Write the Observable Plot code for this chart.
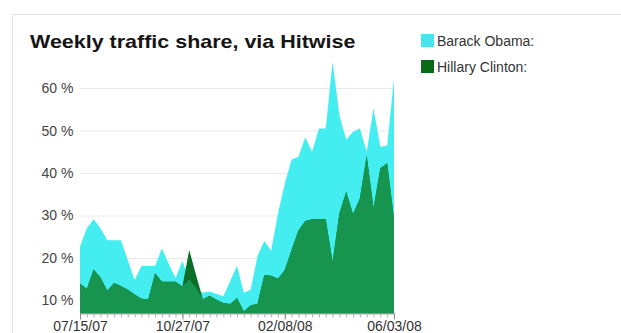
<!DOCTYPE html>
<html>
<head>
<meta charset="utf-8">
<script src="https://cdn.jsdelivr.net/npm/d3@7"></script>
<script src="https://cdn.jsdelivr.net/npm/@observablehq/plot@0.6"></script>
<style>
  html, body { margin: 0; padding: 0; background: #fff; }
  #wrap { position: relative; width: 621px; height: 333px; overflow: hidden; font-family: Arial, "Liberation Sans", sans-serif; }
  #wrap svg { position: absolute; left: 0; top: 0; }
  #box { position: absolute; left: 12px; top: 14px; width: 640px; height: 340px; border: 1px solid #e3e3e3; box-sizing: border-box; }
  #title { position: absolute; left: 30px; top: 32px; font-size: 19px; line-height: 19px; font-weight: bold; color: #151515; white-space: nowrap; transform: scaleX(1.13); transform-origin: 0 0; }
  .leg { position: absolute; left: 421px; font-size: 14px; line-height: 14px; color: #333; white-space: nowrap; }
  .leg span.sw { position: absolute; left: 0; width: 13px; height: 13px; }
  .leg span.tx { position: absolute; left: 16px; top: 0; }
</style>
</head>
<body>
<div id="wrap">
  <div id="box"></div>
</div>
<script>
// ---- data ----
const weeks = [
  "2007-07-15","2007-07-22","2007-07-29","2007-08-05","2007-08-12","2007-08-19","2007-08-26",
  "2007-09-02","2007-09-09","2007-09-16","2007-09-23","2007-09-30","2007-10-07","2007-10-14",
  "2007-10-21","2007-10-28","2007-11-04","2007-11-11","2007-11-18","2007-11-25","2007-12-02",
  "2007-12-09","2007-12-16","2007-12-23","2007-12-30","2008-01-06","2008-01-13","2008-01-20",
  "2008-01-27","2008-02-03","2008-02-10","2008-02-17","2008-02-24","2008-03-02","2008-03-09",
  "2008-03-16","2008-03-23","2008-03-30","2008-04-06","2008-04-13","2008-04-20","2008-04-27",
  "2008-05-04","2008-05-11","2008-05-18","2008-05-25","2008-06-01"
];
const obama = [
  22.7, 27.0, 29.1, 27.0, 24.2, 24.2, 24.2, 19.5, 14.8, 18.1, 18.1, 18.1, 22.3, 18.6, 15.3, 19.3,
  15.0, 13.0, 11.8, 12.1, 11.5, 11.0, 14.5, 18.2, 11.8, 12.5, 20.5, 24.0, 21.7, 30.5, 37.5, 43.2,
  43.8, 48.4, 45.0, 50.5, 50.5, 66.2, 53.6, 47.8, 49.7, 50.5, 45.0, 55.2, 46.2, 46.4, 62.3
];
const clinton = [
  14.0, 12.7, 17.3, 15.4, 12.3, 14.1, 13.4, 12.5, 11.4, 10.4, 10.3, 16.4, 14.4, 14.4, 14.4, 13.3,
  21.9, 16.0, 10.3, 11.1, 10.2, 9.4, 9.2, 10.6, 7.4, 8.9, 9.2, 16.0, 15.8, 15.1, 17.2, 21.9,
  26.5, 28.7, 29.1, 29.1, 29.1, 19.1, 30.5, 35.6, 30.3, 34.0, 44.1, 31.7, 41.1, 42.3, 29.3
];
const seriesNames = ["Barack Obama:", "Hillary Clinton:"];
const tickDates = ["2007-07-15", "2007-10-28", "2008-02-10", "2008-06-01"];
const tickLabels = ["07/15/07", "10/27/07", "02/08/08", "06/03/08"];
const yTicks = [10, 20, 30, 40, 50, 60];
const yDomain = [6.94, 66.5];

// ---- colours ----
const cyan = "#44eef0";
const overlap = "#17954e";
const darkGreen = "#0c6f28";
const legendCyan = "#46e4ee";
const legendGreen = "#0a6a16";

const parse = d3.utcParse("%Y-%m-%d");
const data = weeks.map((w, i) => ({
  date: parse(w),
  obama: obama[i],
  clinton: clinton[i],
  both: Math.min(obama[i], clinton[i])
}));
const weekDates = data.map(d => d.date);
const majorDates = tickDates.map(parse);
const labelMap = new Map(majorDates.map((d, i) => [+d, tickLabels[i]]));

const chart = Plot.plot({
  width: 621,
  height: 333,
  marginLeft: 80,
  marginRight: 227,
  marginTop: 60.4,
  marginBottom: 19.5,
  style: { fontFamily: "Arial, 'Liberation Sans', sans-serif", fontSize: "14px", background: "transparent" },
  x: { type: "utc", domain: d3.extent(weekDates), label: null },
  y: { domain: yDomain, label: null },
  marks: [
    Plot.gridY(yTicks, { stroke: "#e9e9e9", strokeOpacity: 1 }),
    Plot.areaY(data, { x: "date", y: "obama", fill: cyan, clip: true }),
    Plot.areaY(data, { x: "date", y: "clinton", fill: darkGreen, clip: true }),
    Plot.areaY(data, { x: "date", y: "both", fill: overlap, clip: true }),
    Plot.ruleY([yDomain[0]], { stroke: "#aaaaaa" }),
    Plot.axisX(weekDates, { tickSize: 4, tickFormat: () => "", stroke: "#b0b0b0", label: null }),
    Plot.axisX(majorDates, { tickSize: 6, tickPadding: 1, tickFormat: d => labelMap.get(+d), stroke: "#888", fill: "#333", fontSize: 14, label: null }),
    Plot.axisY(yTicks, { tickSize: 0, tickPadding: 7, tickFormat: d => d + " %", fill: "#444", fontSize: 14, label: null })
  ]
});

const wrap = document.getElementById("wrap");
wrap.appendChild(chart);

const title = document.createElement("div");
title.id = "title";
title.textContent = "Weekly traffic share, via Hitwise";
wrap.appendChild(title);

[[seriesNames[0], legendCyan, 34], [seriesNames[1], legendGreen, 60]].forEach(([name, col, top]) => {
  const row = document.createElement("div");
  row.className = "leg";
  row.style.top = top + "px";
  const sw = document.createElement("span");
  sw.className = "sw";
  sw.style.background = col;
  sw.style.top = "-0.5px";
  const tx = document.createElement("span");
  tx.className = "tx";
  tx.textContent = name;
  row.appendChild(sw);
  row.appendChild(tx);
  wrap.appendChild(row);
});
</script>
</body>
</html>
